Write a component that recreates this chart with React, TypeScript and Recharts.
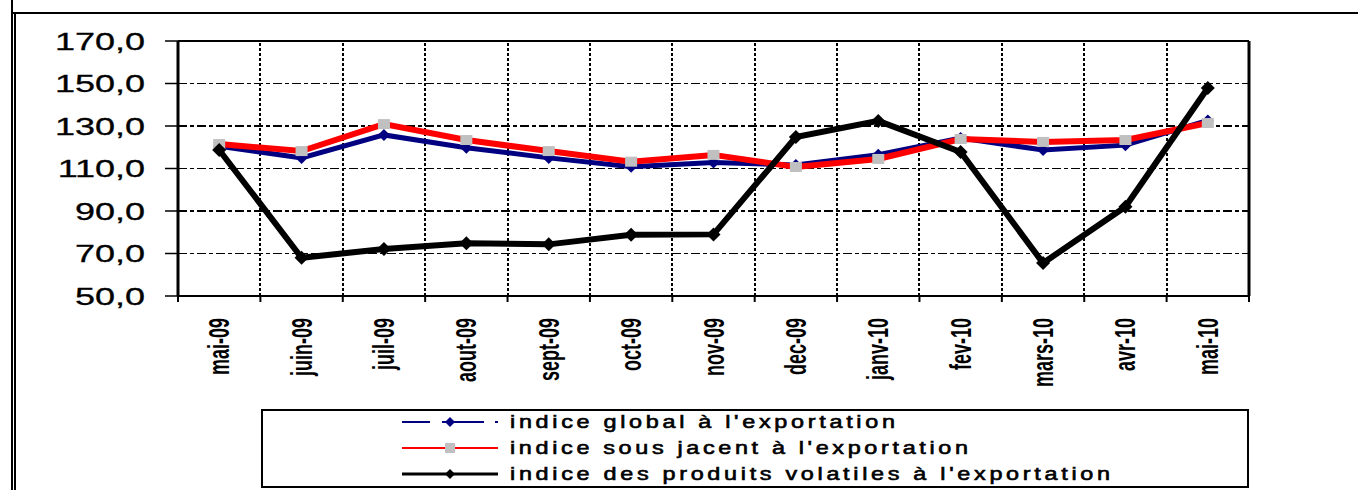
import { LineChart, Line, XAxis, YAxis, CartesianGrid, ReferenceLine } from "recharts";

// months on the x axis
const months = [
  "mai-09", "juin-09", "juil-09", "aout-09", "sept-09", "oct-09", "nov-09",
  "dec-09", "janv-10", "fev-10", "mars-10", "avr-10", "mai-10",
];

// indice global à l'exportation
const globalIndex = [120.5, 115, 125.8, 119.8, 115, 110.8, 112.8, 111.6, 116.5, 124.3, 118.7, 121, 132.6];
// indice sous jacent à l'exportation
const underlyingIndex = [121.5, 118.2, 130.9, 123.4, 118.2, 113.2, 116.4, 110.7, 114.5, 123.9, 122.5, 123.4, 131.4];
// indice des produits volatiles à l'exportation
const volatileIndex = [118.7, 68, 72.1, 74.8, 74.3, 78.8, 79, 124.8, 132.4, 117.8, 65.5, 92, 147.9];

const yTicks = [50, 70, 90, 110, 130, 150, 170];

const legendItems = [
  { label: "indice global à l'exportation", color: "#000080", kind: "global", width: 385 },
  { label: "indice sous jacent à l'exportation", color: "#ff0000", kind: "under", width: 458 },
  { label: "indice des produits volatiles à l'exportation", color: "#000000", kind: "vol", width: 600 },
];

const data = months.map((m, i) => ({
  pos: i + 0.5,
  month: m,
  global: globalIndex[i],
  under: underlyingIndex[i],
  vol: volatileIndex[i],
}));

const boundaries = months.map((_, i) => i).concat(months.length);
const centers = months.map((_, i) => i + 0.5);

const FONT = "'Liberation Sans', Arial, sans-serif";
const LEGEND_SCALE = 1.3;

function YTick(props: any) {
  const { x, y, payload } = props;
  return (
    <text
      transform={`translate(${x},${y}) scale(1.5,1)`}
      textAnchor="end"
      dy="0.36em"
      fontSize={24}
      fontFamily={FONT}
      fill="#000"
      stroke="#000"
      strokeWidth={0.3}
    >
      {payload.value.toFixed(1).replace(".", ",")}
    </text>
  );
}

function MonthTick(props: any) {
  const { x, y, payload } = props;
  const idx = Math.floor(payload.value);
  return (
    <text
      transform={`translate(${x + 10},${y + 14}) rotate(-90) scale(0.62,1)`}
      textAnchor="end"
      fontSize={29}
      fontWeight="bold"
      fontFamily={FONT}
      fill="#000"
    >
      {months[idx]}
    </text>
  );
}

function EmptyTick() {
  return <g />;
}

function Diamond({ cx, cy, r, fill }: any) {
  if (cx == null || cy == null) return null;
  return <polygon points={`${cx},${cy - r} ${cx + r},${cy} ${cx},${cy + r} ${cx - r},${cy}`} fill={fill} />;
}

function GreySquare({ cx, cy }: any) {
  if (cx == null || cy == null) return null;
  return <rect x={cx - 6} y={cy - 5} width={12} height={10} fill="#c0c0c0" />;
}

function LegendSymbol({ kind, color }: { kind: string; color: string }) {
  if (kind === "global") {
    return (
      <g>
        <line x1={0} y1={0} x2={96} y2={0} stroke={color} strokeWidth={2} strokeDasharray="28 12 42 11 3" />
        <Diamond cx={48} cy={0} r={5} fill={color} />
      </g>
    );
  }
  if (kind === "under") {
    return (
      <g>
        <line x1={0} y1={0} x2={96} y2={0} stroke={color} strokeWidth={2} />
        <rect x={43} y={-5} width={10} height={10} fill="#c0c0c0" />
      </g>
    );
  }
  return (
    <g>
      <line x1={0} y1={0} x2={96} y2={0} stroke={color} strokeWidth={3} />
      <Diamond cx={48} cy={0} r={5} fill={color} />
    </g>
  );
}

export default function App() {
  return (
    <div style={{ position: "absolute", left: 0, top: 0, width: 1358, height: 490, background: "#fff", overflow: "hidden" }}>
      {/* outer frame */}
      <div style={{ position: "absolute", left: 11, top: 0, width: 2, height: 490, background: "#000" }} />
      <div style={{ position: "absolute", left: 14, top: 12, width: 2, height: 478, background: "#000" }} />
      <div style={{ position: "absolute", left: 11, top: 12, width: 1347, height: 2, background: "#000" }} />

      <div style={{ position: "absolute", left: 0, top: 0 }}>
        <LineChart width={1358} height={490} data={data} margin={{ top: 41, right: 109, left: 118, bottom: 106 }}>
          <CartesianGrid
            horizontal
            vertical={false}
            stroke="#000"
            strokeWidth={1.5}
            strokeDasharray="9 3 4 3"
            shapeRendering="crispEdges"
            xAxisId="grid"
          />
          <XAxis
            xAxisId="grid"
            dataKey="pos"
            type="number"
            domain={[0, months.length]}
            ticks={boundaries}
            tick={<EmptyTick />}
            tickSize={6}
            height={8}
            interval={0}
            axisLine={{ stroke: "#000", strokeWidth: 2 }}
            tickLine={{ stroke: "#000", strokeWidth: 2 }}
          />
          <XAxis
            xAxisId="labels"
            dataKey="pos"
            type="number"
            domain={[0, months.length]}
            ticks={centers}
            tick={<MonthTick />}
            tickSize={0}
            tickMargin={0}
            height={80}
            axisLine={false}
            tickLine={false}
            interval={0}
          />
          <YAxis
            type="number"
            domain={[50, 170]}
            ticks={yTicks}
            width={60}
            tickSize={13}
            tickMargin={20}
            tick={<YTick />}
            interval={0}
            axisLine={{ stroke: "#000", strokeWidth: 3 }}
            tickLine={{ stroke: "#000", strokeWidth: 1.5 }}
          />
          {boundaries.slice(1, -1).map((b) => (
            <ReferenceLine
              key={`v${b}`}
              xAxisId="grid"
              x={b}
              stroke="#000"
              strokeWidth={2}
              strokeDasharray="3 2"
              shapeRendering="crispEdges"
            />
          ))}
          <ReferenceLine xAxisId="grid" y={170} stroke="#000" strokeWidth={2} />
          <ReferenceLine xAxisId="grid" x={months.length} stroke="#000" strokeWidth={3} />
          <Line
            xAxisId="grid"
            dataKey="global"
            stroke="#000080"
            strokeWidth={5}
            isAnimationActive={false}
            dot={(p: any) => <Diamond key={`g${p.index}`} cx={p.cx} cy={p.cy} r={6} fill="#000080" />}
            activeDot={false}
          />
          <Line
            xAxisId="grid"
            dataKey="under"
            stroke="#ff0000"
            strokeWidth={6}
            isAnimationActive={false}
            dot={(p: any) => <GreySquare key={`u${p.index}`} cx={p.cx} cy={p.cy} />}
            activeDot={false}
          />
          <Line
            xAxisId="grid"
            dataKey="vol"
            stroke="#000"
            strokeWidth={6}
            isAnimationActive={false}
            dot={(p: any) => <Diamond key={`v${p.index}`} cx={p.cx} cy={p.cy} r={7} fill="#000" />}
            activeDot={false}
          />
        </LineChart>
      </div>

      {/* legend */}
      <div style={{ position: "absolute", left: 261, top: 409, width: 984, height: 75, border: "2px solid #000" }} />
      <svg style={{ position: "absolute", left: 0, top: 0 }} width={1358} height={490}>
        {legendItems.map((item, i) => (
          <g key={item.kind} transform={`translate(402,${422 + i * 26})`}>
            <LegendSymbol kind={item.kind} color={item.color} />
            <text
              transform={`translate(108,0) scale(${LEGEND_SCALE},1)`}
              dy="0.36em"
              fontSize={18}
              fontFamily={FONT}
              fill="#000"
              stroke="#000"
              strokeWidth={0.6}
              textLength={item.width / LEGEND_SCALE}
              lengthAdjust="spacing"
            >
              {item.label}
            </text>
          </g>
        ))}
      </svg>
    </div>
  );
}
